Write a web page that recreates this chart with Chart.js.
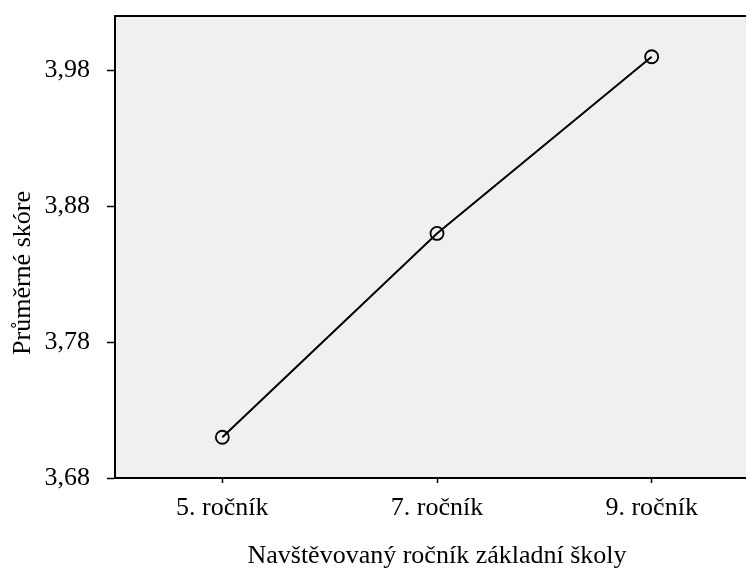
<!DOCTYPE html>
<html>
<head>
<meta charset="utf-8">
<script src="https://cdn.jsdelivr.net/npm/chart.js@4/dist/chart.umd.min.js"></script>
<style>
  html, body { margin: 0; padding: 0; background: #ffffff; overflow: hidden; width: 746px; height: 570px; }
  canvas { display: block; }
</style>
</head>
<body>
<canvas id="c" width="760" height="570" style="width:760px;height:570px"></canvas>
<script>
const categories = ['5. ročník', '7. ročník', '9. ročník'];
const meanScores = [3.71, 3.86, 3.99];
const yTickValues = [3.68, 3.78, 3.88, 3.98];
const yTickLabels = ['3,68', '3,78', '3,88', '3,98'];
const yMin = 3.68;
const yMax = 4.02;
const xTitle = 'Navštěvovaný ročník základní školy';
const yTitle = 'Průměrné skóre';

const FONT = { family: "'Liberation Serif', 'Times New Roman', serif", size: 26, lineHeight: 1.2 };

const plotFrame = {
  id: 'plotFrame',
  beforeDraw(chart) {
    const { ctx, chartArea: a } = chart;
    ctx.save();
    ctx.fillStyle = '#f0f0f0';
    ctx.fillRect(a.left, a.top, a.right - a.left, a.bottom - a.top);
    ctx.restore();
  },
  afterDraw(chart) {
    const { ctx, chartArea: a } = chart;
    ctx.save();
    ctx.strokeStyle = '#000';
    ctx.lineWidth = 2;
    ctx.beginPath();
    ctx.moveTo(a.left - 1, a.top);
    ctx.lineTo(a.right, a.top);
    ctx.lineTo(a.right, a.bottom);
    ctx.stroke();
    ctx.restore();
  }
};

new Chart(document.getElementById('c'), {
  type: 'line',
  data: {
    labels: categories,
    datasets: [{
      data: meanScores,
      borderColor: '#000',
      borderWidth: 2,
      tension: 0,
      fill: false,
      pointStyle: 'circle',
      pointRadius: 6.5,
      pointBorderWidth: 1.8,
      pointBackgroundColor: 'rgba(0,0,0,0)',
      pointBorderColor: '#000',
      pointHoverRadius: 6.5
    }]
  },
  options: {
    responsive: false,
    devicePixelRatio: 1,
    animation: false,
    events: [],
    layout: { autoPadding: false, padding: { top: 16, left: 0, right: 1, bottom: 0 } },
    plugins: { legend: { display: false }, tooltip: { enabled: false }, title: { display: false } },
    scales: {
      x: {
        type: 'category',
        offset: true,
        afterFit(scale) { scale.height = 92; scale.paddingLeft = 0; scale.paddingRight = 0; },
        grid: { drawOnChartArea: false, drawTicks: true, tickLength: 5, tickWidth: 1.5, tickColor: '#000', offset: false },
        border: { display: true, color: '#000', width: 2 },
        ticks: { color: '#000', font: FONT, padding: 10, maxRotation: 0, autoSkip: false },
        title: { display: true, text: xTitle, color: '#000', font: FONT, padding: { top: 0, bottom: -2 } }
      },
      y: {
        type: 'linear',
        min: yMin,
        max: yMax,
        afterFit(scale) { scale.width = 115; scale.paddingTop = 0; scale.paddingBottom = 0; },
        afterBuildTicks(scale) { scale.ticks = yTickValues.map(v => ({ value: v })); },
        grid: { drawOnChartArea: false, drawTicks: true, tickLength: 8, tickWidth: 1.5, tickColor: '#000' },
        border: { display: true, color: '#000', width: 2 },
        ticks: {
          color: '#000', font: FONT, padding: 17,
          callback(value) { const i = yTickValues.indexOf(value); return i >= 0 ? yTickLabels[i] : ''; }
        },
        title: { display: true, text: yTitle + '        ', color: '#000', font: FONT, padding: { top: 8, bottom: 0 } }
      }
    }
  },
  plugins: [plotFrame]
});
</script>
</body>
</html>
